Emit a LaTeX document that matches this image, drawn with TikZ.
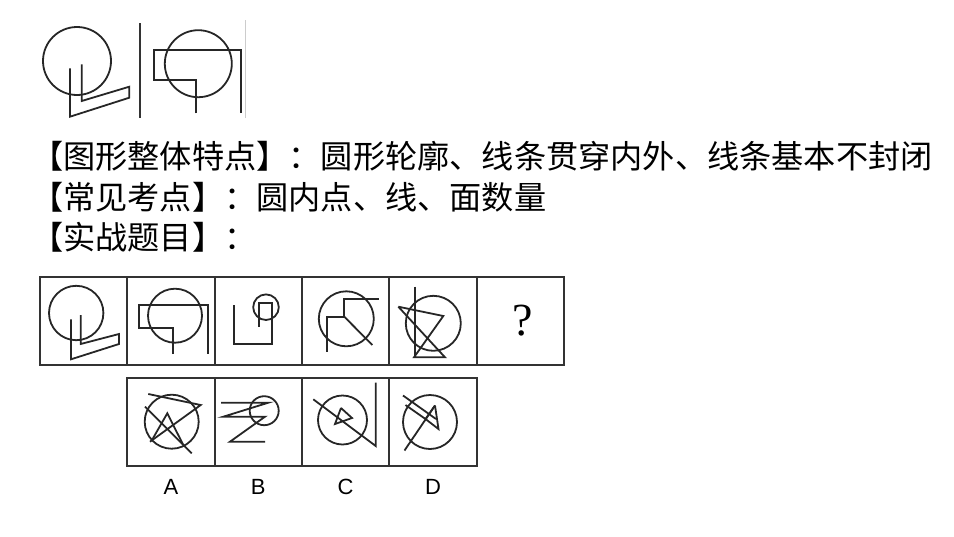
\documentclass[tikz,border=0pt]{standalone}
\usepackage{fontspec}
\newfontfamily\cjkfont{Noto Sans CJK SC}
\newfontfamily\labelfont{Liberation Sans}
\newfontfamily\qfont{Liberation Serif}
\usetikzlibrary{positioning}
\tikzset{
    cellbox/.style={
        rectangle,
        draw=black!80,
        line width=2pt,
        minimum width=87.33pt,
        minimum height=88pt,
        inner sep=0pt,
        outer sep=0pt
    },
    figline/.style={
        line width=1.8pt,
        black!85
    },
    headline/.style={
        anchor=base west,
        inner sep=0pt,
        font=\cjkfont\fontsize{32.2}{36}\selectfont
    },
    optlabel/.style={
        inner sep=0pt,
        font=\labelfont\fontsize{22}{24}\selectfont
    }
}

\begin{document}
\begin{tikzpicture}[x=1pt, y=-1pt]
    \useasboundingbox (0,0) rectangle (954,536);

    % Hình mẫu phía trên
    \draw[figline] (77,61) circle (34);
    \draw[figline] (81.7,64.3) -- (81.7,101) -- (129.3,86.7) -- (129.3,97.7) -- (70,116.7) -- (70,68.3);
    \draw[line width=2.4pt, black!80] (140,23.3) -- (140,118.3);
    \draw[figline] (198.3,63.7) circle (33.5);
    \draw[figline] (196,113.3) -- (196,80) -- (154,80) -- (154,50) -- (240.7,50) -- (240.7,113.3);
    \draw[line width=1pt, black!20] (245,20) -- (245,118);

    % Dòng chữ
    \node[headline] (hdfeat) at (31,168) {【图形整体特点】：圆形轮廓、线条贯穿内外、线条基本不封闭};
    \node[headline] (hdpoint) at (31,209) {【常见考点】：圆内点、线、面数量};
    \node[headline] (hdtask) at (31,249) {【实战题目】：};

    % Hàng đề bài
    \node[cellbox] (q1) at (83.67,321) {};
    \node[cellbox, right=0pt of q1] (q2) {};
    \node[cellbox, right=0pt of q2] (q3) {};
    \node[cellbox, right=0pt of q3] (q4) {};
    \node[cellbox, right=0pt of q4] (q5) {};
    \node[cellbox, right=0pt of q5] (q6) {};
    \node[font=\qfont\fontsize{46}{50}\selectfont, inner sep=0pt, xshift=2pt] (qmark) at (q6) {?};

    \draw[figline] (76.2,313) circle (27.2);
    \draw[figline] (80.7,315) -- (80.7,344) -- (119,334) -- (119,344) -- (71,359.3) -- (71,319.3);

    \draw[figline] (175,315.7) circle (27);
    \draw[figline] (173.3,354) -- (173.3,328.3) -- (139.3,328.3) -- (139.3,305) -- (208.3,305) -- (208.3,354);

    \draw[figline] (266,307.2) circle (12.8);
    \draw[figline] (234.3,305) -- (234.3,344) -- (271.7,344) -- (271.7,303.3) -- (259,303.3) -- (259,326.7);

    \draw[figline] (346.3,318.8) circle (27.5);
    \draw[figline] (326.7,351.7) -- (326.7,316.7) -- (344.3,316.7) -- (344.3,299.3) -- (379,299.3);
    \draw[figline] (344.3,316.7) -- (372.3,345);

    \draw[figline] (433.3,323.3) circle (27.5);
    \draw[figline] (415,286.7) -- (415,357.3);
    \draw[figline] (398.3,306.7) -- (443.3,316) -- (414,357.3) -- (445,357.3) -- (398.3,306.7);

    % Hàng đáp án
    \node[cellbox, below=13pt of q2] (optA) {};
    \node[cellbox, right=0pt of optA] (optB) {};
    \node[cellbox, right=0pt of optB] (optC) {};
    \node[cellbox, right=0pt of optC] (optD) {};
    \node[optlabel, below=13pt of optA] (labA) {A};
    \node[optlabel, below=13pt of optB] (labB) {B};
    \node[optlabel, below=13pt of optC] (labC) {C};
    \node[optlabel, below=13pt of optD] (labD) {D};

    \draw[figline] (171.7,421.7) circle (27);
    \draw[figline] (148.3,394) -- (200.7,405) -- (150,441.7);
    \draw[figline] (145,406.7) -- (191.7,453.3);
    \draw[figline] (152,440) -- (167.3,413.3) -- (183.3,445);

    \draw[figline] (264.2,410.7) circle (14.5);
    \draw[figline] (221,402.7) -- (268.3,402.7) -- (223.3,416.7) -- (265,416.7) -- (230,441.7) -- (265,441.7);

    \draw[figline] (342.5,420) circle (24.5);
    \draw[figline] (313.3,399.3) -- (375.7,446) -- (375.7,382.7);
    \draw[figline] (341,408) -- (335,424) -- (352,418) -- (341,408);

    \draw[figline] (430,422) circle (27);
    \draw[figline] (403,395.5) -- (436,419);
    \draw[figline] (405.5,405) -- (425.5,419);
    \draw[figline] (435,405.5) -- (438.5,429) -- (425.5,419) -- (435,405.5);
    \draw[figline] (404.5,450.5) -- (435,405.5);
\end{tikzpicture}
\end{document}
